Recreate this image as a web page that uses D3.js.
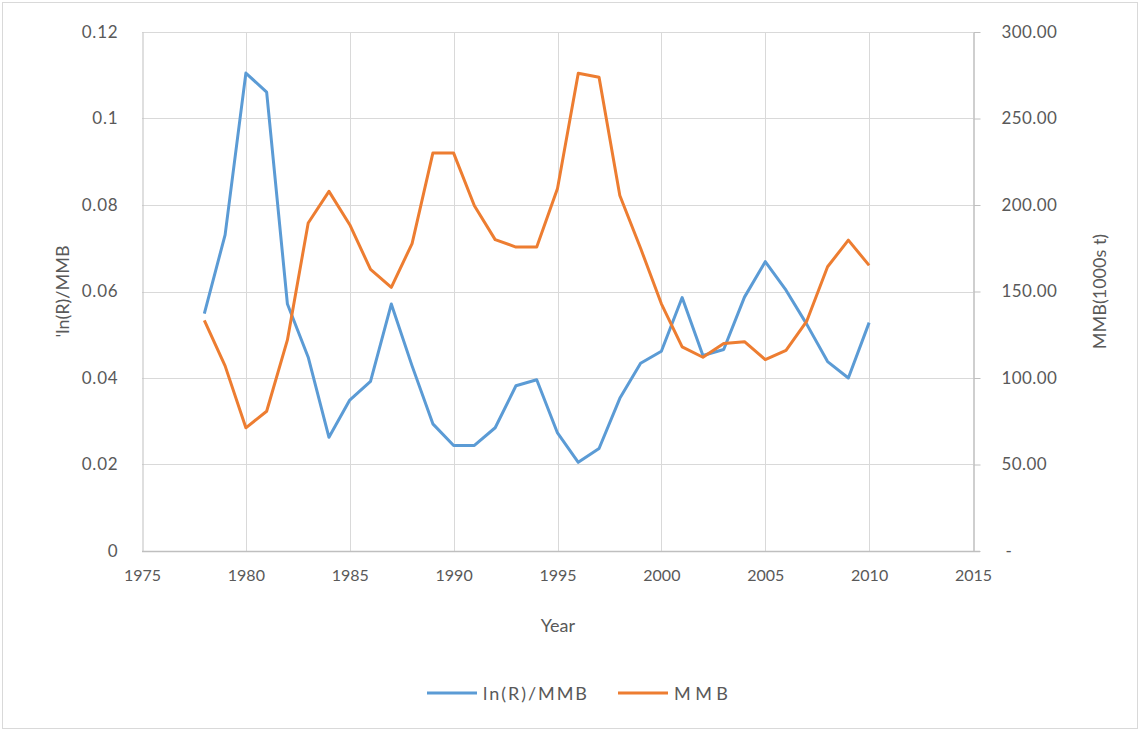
<!DOCTYPE html>
<html>
<head>
<meta charset="utf-8">
<script src="https://cdn.jsdelivr.net/npm/d3@7"></script>
<style>
  html, body { margin: 0; padding: 0; background: #fff; }
  svg { display: block; font-family: Lato, "Open Sans", sans-serif; }
</style>
</head>
<body>
<svg id="chart" width="1140" height="732"></svg>
<script>
// Survey years
const years = [1978, 1979, 1980, 1981, 1982, 1983, 1984, 1985, 1986, 1987, 1988,
  1989, 1990, 1991, 1992, 1993, 1994, 1995, 1996, 1997, 1998, 1999, 2000,
  2001, 2002, 2003, 2004, 2005, 2006, 2007, 2008, 2009, 2010];

// ln(R)/MMB (left axis)
const lnRMMB = [0.0549, 0.0731, 0.1105, 0.1061, 0.0571, 0.0448, 0.0263, 0.0349,
  0.0392, 0.0571, 0.0428, 0.0294, 0.0244, 0.0244, 0.0285, 0.0382, 0.0396,
  0.0273, 0.0205, 0.0237, 0.0353, 0.0434, 0.0462, 0.0586, 0.0452, 0.0466,
  0.0587, 0.0669, 0.0603, 0.0524, 0.0438, 0.0400, 0.0528];

// MMB in 1000s t (right axis)
const mmb = [133.3, 107.0, 71.2, 80.8, 122.0, 189.6, 207.9, 188.6, 162.8, 152.4,
  177.7, 230.0, 230.0, 199.6, 180.0, 175.7, 175.7, 209.5, 276.2, 273.8, 205.5,
  175.0, 142.9, 118.0, 112.0, 120.0, 121.0, 110.6, 116.0, 132.9, 164.3, 179.7,
  165.1];

const xTicks = [1975, 1980, 1985, 1990, 1995, 2000, 2005, 2010, 2015];
const leftTicks = [0, 0.02, 0.04, 0.06, 0.08, 0.1, 0.12];
const rightTicks = [0, 50, 100, 150, 200, 250, 300];

const seriesNames = ["ln(R)/MMB", "MMB"];
const seriesColors = ["#5B9BD5", "#ED7D31"];

const svg = d3.select("#chart");
const W = 1140, H = 732;
const plot = { left: 142, right: 973, top: 32, bottom: 551 };
const textColor = "#595959";
const gridColor = "#d9d9d9";
const axisColor = "#bfbfbf";

// Chart frame
svg.append("rect")
  .attr("x", 2.5).attr("y", 2.5)
  .attr("width", W - 5).attr("height", H - 6)
  .attr("fill", "#fff").attr("stroke", "#d9d9d9");

const x = d3.scaleLinear().domain([1975, 2015]).range([plot.left, plot.right]);
const yL = d3.scaleLinear().domain([0, 0.12]).range([plot.bottom, plot.top]);
const yR = d3.scaleLinear().domain([0, 300]).range([plot.bottom, plot.top]);

// Gridlines
const grid = svg.append("g");
grid.selectAll("line.h").data(leftTicks.filter(d => d > 0)).join("line")
  .attr("x1", plot.left).attr("x2", plot.right)
  .attr("y1", d => Math.round(yL(d)) + 0.5).attr("y2", d => Math.round(yL(d)) + 0.5)
  .attr("stroke", gridColor).attr("stroke-width", 1);
grid.selectAll("line.v").data(xTicks.slice(1, -1)).join("line")
  .attr("y1", plot.top).attr("y2", plot.bottom)
  .attr("x1", d => Math.round(x(d)) + 0.5).attr("x2", d => Math.round(x(d)) + 0.5)
  .attr("stroke", gridColor).attr("stroke-width", 1);

// Bottom axis
const xAxis = svg.append("g")
  .attr("transform", `translate(0,${plot.bottom + 0.5})`)
  .call(d3.axisBottom(x).tickValues(xTicks).tickFormat(d3.format("d")).tickSize(0).tickPadding(18));
xAxis.select(".domain").remove();
xAxis.append("line").attr("x1", plot.left).attr("x2", plot.right + 7)
  .attr("stroke", axisColor).attr("stroke-width", 1.5);
xAxis.selectAll("text").attr("fill", textColor).style("font-size", "16px")
  .style("font-family", "Lato, sans-serif");

// Left axis
const yAxisL = svg.append("g")
  .attr("transform", `translate(${plot.left + 0.5},0)`)
  .call(d3.axisLeft(yL).tickValues(leftTicks).tickFormat(d => d3.format("")(+d.toFixed(2))).tickSize(0).tickPadding(24));
yAxisL.select(".domain").attr("stroke", axisColor).attr("stroke-width", 1);
yAxisL.selectAll("text").attr("fill", textColor).style("font-size", "17px")
  .style("letter-spacing", "0.8px").style("font-family", "Lato, sans-serif");

// Right axis
const yAxisR = svg.append("g")
  .attr("transform", `translate(${plot.right + 0.5},0)`)
  .call(d3.axisRight(yR).tickValues(rightTicks)
    .tickFormat(d => d === 0 ? "-" : d3.format(".2f")(d)).tickSizeInner(7).tickSizeOuter(0).tickPadding(21));
yAxisR.select(".domain").attr("stroke", axisColor).attr("stroke-width", 1.5);
yAxisR.selectAll(".tick line").attr("stroke", axisColor).attr("stroke-width", 1);
yAxisR.selectAll("text").attr("fill", textColor).style("font-size", "17px")
  .style("letter-spacing", "0.4px").style("font-family", "Lato, sans-serif");
yAxisR.selectAll(".tick").filter(d => d === 0).select("text").attr("dx", 4);

// Series lines
const lineL = d3.line().x((d, i) => x(years[i])).y(d => yL(d));
const lineR = d3.line().x((d, i) => x(years[i])).y(d => yR(d));
svg.append("path").datum(lnRMMB).attr("d", lineL)
  .attr("fill", "none").attr("stroke", seriesColors[0]).attr("stroke-width", 3)
  .attr("stroke-linejoin", "round");
svg.append("path").datum(mmb).attr("d", lineR)
  .attr("fill", "none").attr("stroke", seriesColors[1]).attr("stroke-width", 3)
  .attr("stroke-linejoin", "round");

// Axis titles
svg.append("text").attr("x", 558).attr("y", 632).attr("text-anchor", "middle")
  .attr("fill", textColor).style("font-size", "18px").text("Year");
svg.append("text")
  .attr("transform", `translate(69,${yL(0.06)}) rotate(-90)`)
  .attr("text-anchor", "middle").attr("fill", textColor).style("font-size", "18px")
  .text("'ln(R)/MMB");
svg.append("text")
  .attr("transform", `translate(1106,${yL(0.06)}) rotate(-90)`)
  .attr("text-anchor", "middle").attr("fill", textColor).style("font-size", "18px")
  .text("MMB(1000s t)");

// Legend
const legend = svg.append("g").attr("transform", "translate(0,693)");
const legendItems = [
  { name: seriesNames[0], color: seriesColors[0], x: 427, w: 104 },
  { name: seriesNames[1], color: seriesColors[1], x: 618, w: 54 }
];
legendItems.forEach(item => {
  legend.append("line").attr("x1", item.x).attr("x2", item.x + 50)
    .attr("y1", 0).attr("y2", 0)
    .attr("stroke", item.color).attr("stroke-width", 3);
  legend.append("text").attr("x", item.x + 56).attr("y", 6.5)
    .attr("fill", textColor).style("font-size", "18px")
    .attr("textLength", item.w).attr("lengthAdjust", "spacing")
    .text(item.name);
});
</script>
</body>
</html>
